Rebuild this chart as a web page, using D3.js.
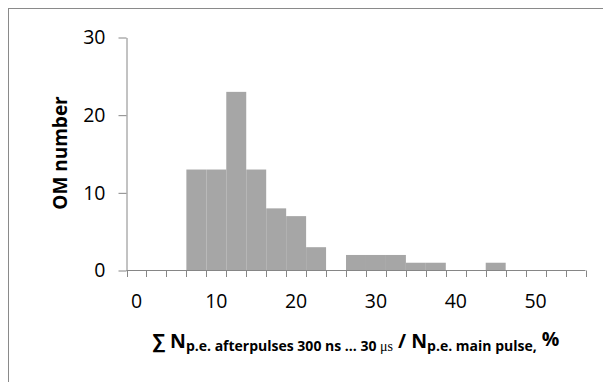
<!DOCTYPE html>
<html>
<head>
<meta charset="utf-8">
<script src="https://cdn.jsdelivr.net/npm/d3@7/dist/d3.min.js"></script>
<style>
  html, body { margin: 0; padding: 0; background: #fff; }
  svg { display: block; }
</style>
</head>
<body>
<svg id="chart" width="603" height="382"></svg>
<script>
// ---- data ----
const categories = [0, 2.5, 5, 7.5, 10, 12.5, 15, 17.5, 20, 22.5, 25, 27.5, 30, 32.5, 35, 37.5, 40, 42.5, 45, 47.5, 50, 52.5, 55];
const counts     = [0, 0, 0, 13, 13, 23, 13, 8, 7, 3, 0, 2, 2, 2, 1, 1, 0, 0, 1, 0, 0, 0, 0];
const xTickLabels = [0, 10, 20, 30, 40, 50];
const yTickValues = [0, 10, 20, 30];

const svg = d3.select("#chart");
const axisColor = "#868686";
const font = "'Open Sans', 'DejaVu Sans', sans-serif";

// frame (cropped on right / bottom)
svg.append("rect")
  .attr("x", 8.5).attr("y", 8.5).attr("width", 620).attr("height", 400)
  .attr("fill", "none").attr("stroke", "#8a8a8a").attr("stroke-width", 1);

const x = d3.scaleBand().domain(categories).range([126.5, 585.5]).padding(0);
const y = d3.scaleLinear().domain([0, 30]).range([270.5, 37.5]);

// bars
svg.append("g").selectAll("rect")
  .data(categories.map((c, i) => ({ c, v: counts[i] })).filter(d => d.v > 0))
  .join("rect")
  .attr("x", d => x(d.c))
  .attr("y", d => y(d.v))
  .attr("width", x.bandwidth())
  .attr("height", d => y(0) - y(d.v))
  .attr("fill", "#a6a6a6");

// y axis
const yAxis = svg.append("g")
  .attr("transform", `translate(${x.range()[0]},0)`)
  .call(d3.axisLeft(y).tickValues(yTickValues).tickSize(8).tickPadding(13).tickSizeOuter(0));
yAxis.select(".domain").attr("stroke", axisColor);
yAxis.selectAll(".tick line").attr("stroke", axisColor);
yAxis.selectAll(".tick text")
  .attr("font-family", font).attr("font-size", 19.5).attr("fill", "#000");

// x axis line + boundary ticks
const boundaries = categories.map(c => x(c)).concat([x.range()[1]]);
const xg = svg.append("g");
xg.append("line")
  .attr("x1", x.range()[0]).attr("x2", x.range()[1])
  .attr("y1", y(0)).attr("y2", y(0))
  .attr("stroke", axisColor);
xg.selectAll("line.bt").data(boundaries).join("line")
  .attr("class", "bt")
  .attr("x1", d => Math.round(d) + 0.5).attr("x2", d => Math.round(d) + 0.5)
  .attr("y1", y(0)).attr("y2", y(0) + 6.5)
  .attr("stroke", axisColor);

// x labels (every 4th category)
const xAxis = svg.append("g")
  .attr("transform", `translate(0,${y(0)})`)
  .call(d3.axisBottom(x).tickValues(xTickLabels).tickSize(0).tickPadding(24));
xAxis.select(".domain").remove();
xAxis.selectAll(".tick text")
  .attr("font-family", font).attr("font-size", 19.5).attr("fill", "#000");

// y title
svg.append("text")
  .attr("transform", "translate(66.5,153) rotate(-90)")
  .attr("text-anchor", "middle")
  .attr("font-family", font).attr("font-weight", "bold").attr("font-size", 19)
  .text("OM number");

// x title
const xt = svg.append("text")
  .attr("x", 356).attr("y", 348.3)
  .attr("text-anchor", "middle")
  .attr("font-family", font).attr("font-weight", "bold").attr("font-size", 19.5);
xt.append("tspan").text("∑ N");
xt.append("tspan").attr("dy", 3).attr("font-size", 14).text("p.e. afterpulses 300 ns ... 30 ");
xt.append("tspan").attr("font-family", "'Liberation Serif', serif").attr("font-weight", "normal").attr("font-size", 14).text("μs");
xt.append("tspan").attr("dy", -3).text(" / N");
xt.append("tspan").attr("dy", 3).attr("font-size", 14).text("p.e. main pulse,");
xt.append("tspan").attr("dy", -5).text(" %");
</script>
</body>
</html>
